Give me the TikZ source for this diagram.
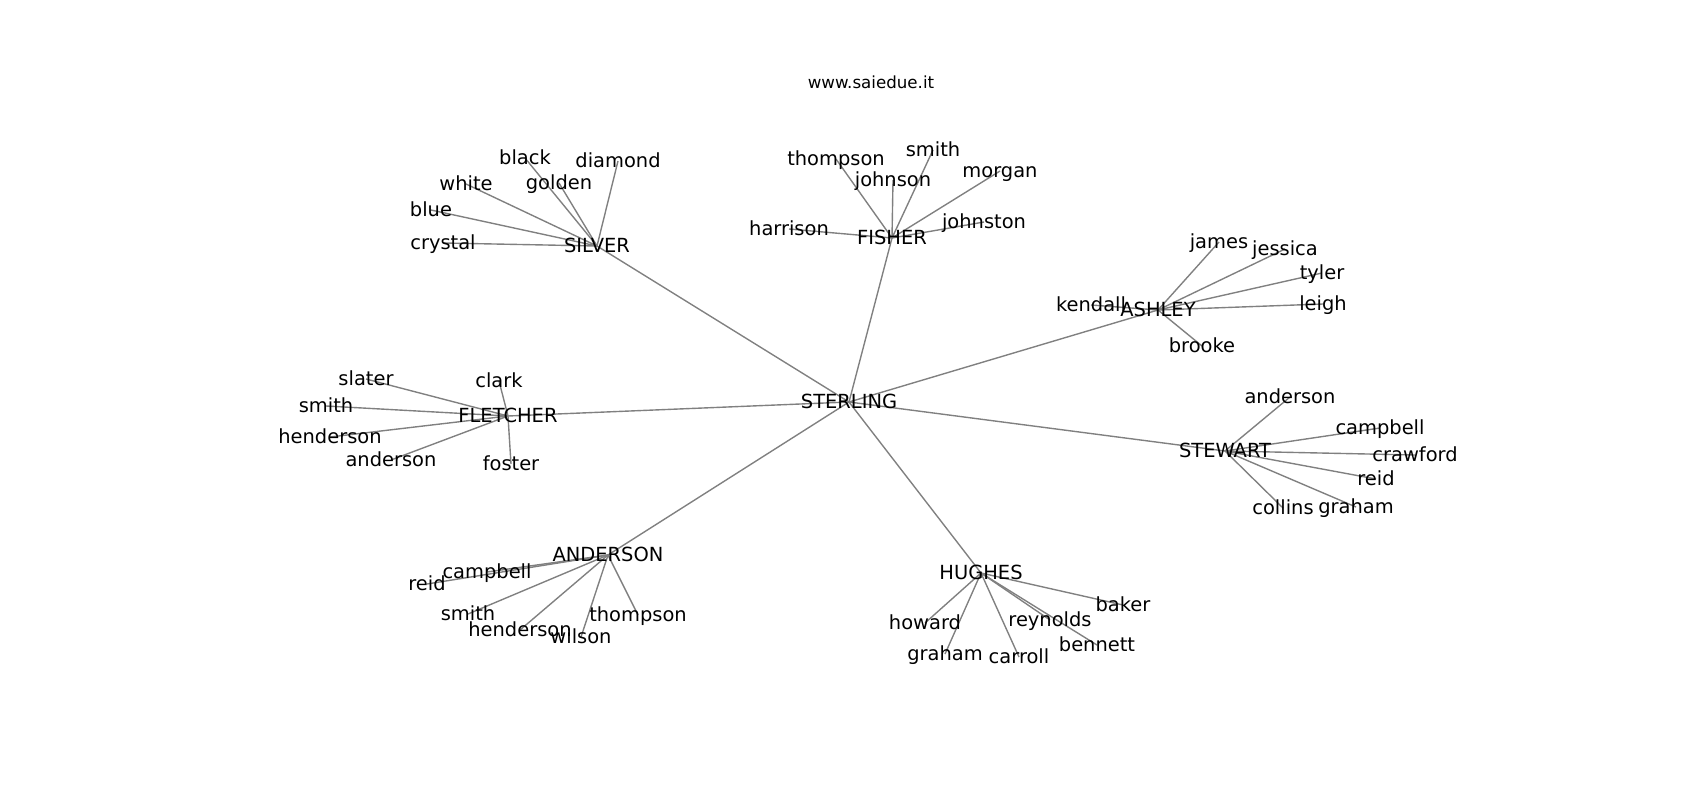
\documentclass[tikz,border=0pt]{standalone}
\usepackage{fontspec}
\setmainfont{DejaVu Sans}
\usetikzlibrary{backgrounds}
\tikzset{
  lbl/.style={inner sep=0pt,text height=0.96em,text depth=0.04em,
    font=\fontsize{14bp}{16bp}\selectfont},
  edge/.style={draw=gray,line width=1bp}
}
\begin{document}
\begin{tikzpicture}[x=0.72bp,y=-0.72bp]
\useasboundingbox (0,0) rectangle (1700,800);
\node[font=\fontsize{12bp}{14bp}\selectfont] (Ntitle) at (871,82) {www.saiedue.it};
% hubs
\node[lbl] (Nsterling) at (849,402) {STERLING};
\node[lbl] (Nsilver) at (597,246) {SILVER};
\node[lbl] (Nfisher) at (892,238) {FISHER};
\node[lbl] (Nashley) at (1158,310) {ASHLEY};
\node[lbl] (Nfletcher) at (508,416) {FLETCHER};
\node[lbl] (Nstewart) at (1225,451) {STEWART};
\node[lbl] (Nanderson) at (608,555) {ANDERSON};
\node[lbl] (Nhughes) at (981,573) {HUGHES};
% silver
\node[lbl] (Nsi1) at (525,158) {black};
\node[lbl] (Nsi2) at (618,161) {diamond};
\node[lbl] (Nsi3) at (466,184) {white};
\node[lbl] (Nsi4) at (559,183) {golden};
\node[lbl] (Nsi5) at (431,210) {blue};
\node[lbl] (Nsi6) at (443,243) {crystal};
% fisher
\node[lbl] (Nfi1) at (836,159) {thompson};
\node[lbl] (Nfi2) at (933,150) {smith};
\node[lbl] (Nfi3) at (893,180) {johnson};
\node[lbl] (Nfi4) at (1000,171) {morgan};
\node[lbl] (Nfi5) at (789,229) {harrison};
\node[lbl] (Nfi6) at (984,222) {johnston};
% ashley
\node[lbl] (Nas1) at (1219,242) {james};
\node[lbl] (Nas2) at (1285,249) {jessica};
\node[lbl] (Nas3) at (1322,273) {tyler};
\node[lbl] (Nas4) at (1323,304) {leigh};
\node[lbl] (Nas5) at (1091,305) {kendall};
\node[lbl] (Nas6) at (1202,346) {brooke};
% fletcher
\node[lbl] (Nfl1) at (366,379) {slater};
\node[lbl] (Nfl2) at (499,381) {clark};
\node[lbl] (Nfl3) at (326,406) {smith};
\node[lbl] (Nfl4) at (330,437) {henderson};
\node[lbl] (Nfl5) at (391,460) {anderson};
\node[lbl] (Nfl6) at (511,464) {foster};
% stewart
\node[lbl] (Nst1) at (1290,397) {anderson};
\node[lbl] (Nst2) at (1380,428) {campbell};
\node[lbl] (Nst3) at (1415,455) {crawford};
\node[lbl] (Nst4) at (1376,479) {reid};
\node[lbl] (Nst5) at (1283,508) {collins};
\node[lbl] (Nst6) at (1356,507) {graham};
% anderson
\node[lbl] (Nan1) at (487,572) {campbell};
\node[lbl] (Nan2) at (427,584) {reid};
\node[lbl] (Nan3) at (468,614) {smith};
\node[lbl] (Nan4) at (520,630) {henderson};
\node[lbl] (Nan5) at (581,637) {wilson};
\node[lbl] (Nan6) at (638,615) {thompson};
% hughes
\node[lbl] (Nhu1) at (925,623) {howard};
\node[lbl] (Nhu2) at (945,654) {graham};
\node[lbl] (Nhu3) at (1019,657) {carroll};
\node[lbl] (Nhu4) at (1050,620) {reynolds};
\node[lbl] (Nhu5) at (1097,645) {bennett};
\node[lbl] (Nhu6) at (1123,605) {baker};
\begin{pgfonlayer}{background}
\foreach \h in {silver,fisher,ashley,fletcher,stewart,anderson,hughes}
  \draw[edge] (Nsterling.center) -- (N\h.center);
\foreach \i in {1,...,6} {
  \draw[edge] (Nsilver.center) -- (Nsi\i.center);
  \draw[edge] (Nfisher.center) -- (Nfi\i.center);
  \draw[edge] (Nashley.center) -- (Nas\i.center);
  \draw[edge] (Nfletcher.center) -- (Nfl\i.center);
  \draw[edge] (Nstewart.center) -- (Nst\i.center);
  \draw[edge] (Nanderson.center) -- (Nan\i.center);
  \draw[edge] (Nhughes.center) -- (Nhu\i.center);
}
\end{pgfonlayer}
\end{tikzpicture}
\end{document}
